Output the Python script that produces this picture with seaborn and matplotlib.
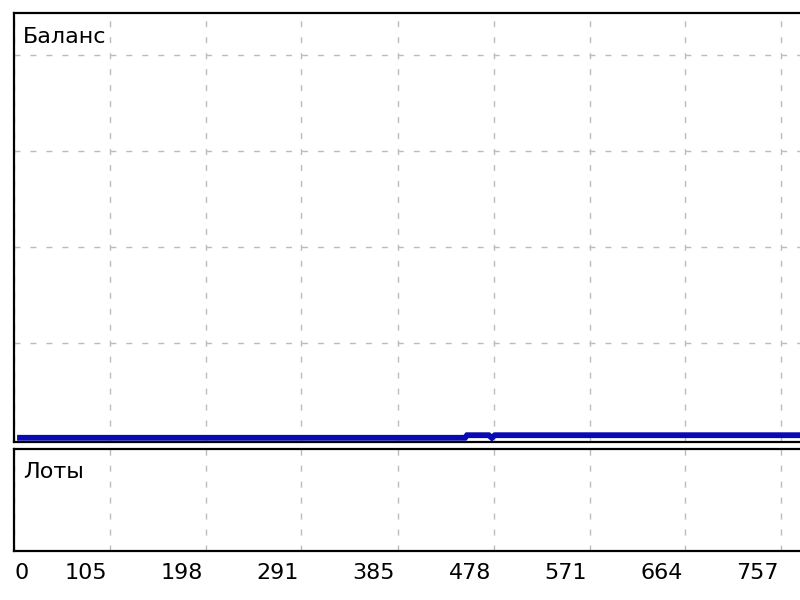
import matplotlib
matplotlib.use("Agg")
import matplotlib.pyplot as plt
import matplotlib.transforms as mtransforms
import seaborn as sns
import pandas as pd

# balance curve (trade number -> balance)
trades = [15, 450, 452, 473, 476, 479, 820]
balance = [10013, 10013, 10040, 10040, 10013, 10040, 10040]

# x axis tick values and labels
xtick_vals = [12, 105, 198, 291, 385, 478, 571, 664, 757]
xtick_labels = ["0", "105", "198", "291", "385", "478", "571", "664", "757"]
# horizontal grid of the balance panel
ytick_vals = [11000, 12000, 13000, 14000]

sns.set_style("white")
plt.rcParams['font.family'] = ['DejaVu Sans']

fig = plt.figure(figsize=(8, 6), dpi=100)
ax1 = fig.add_axes([0.0175, 0.2633, 0.995, 0.715])
ax2 = fig.add_axes([0.0175, 0.0817, 0.995, 0.17], sharex=ax1)

df = pd.DataFrame({"trade": trades, "balance": balance})
sns.lineplot(data=df, x="trade", y="balance", ax=ax1, color="#0a0ab4",
             linewidth=4.2, solid_capstyle="butt", solid_joinstyle="miter")

ax1.set_xlim(12, 785)
ax1.set_ylim(9969, 14439)
ax1.set_xlabel("")
ax1.set_ylabel("")

grid_kw = dict(color="#bcbcbc", linewidth=1.0, linestyle=(0, (4.3, 7.2)))
for ax in (ax1, ax2):
    ax.set_xticks(xtick_vals)
    ax.grid(True, axis="x", **grid_kw)
    for side in ("top", "left", "bottom", "right"):
        ax.spines[side].set_color("black")
        ax.spines[side].set_linewidth(1.6)
    ax.tick_params(axis="y", left=False, right=False, labelleft=False)
ax1.set_yticks(ytick_vals)
ax2.set_yticks([])
ax1.grid(True, axis="y", **grid_kw)
ax1.tick_params(axis="x", bottom=False, labelbottom=False)

ax2.set_ylim(0, 1)
ax2.set_xticklabels(xtick_labels)
ax2.tick_params(axis="x", direction="out", length=4, width=1.4, color="black",
                labelsize=16, labelcolor="black", pad=5)
shift = mtransforms.ScaledTranslation(-3 / 100, 0, fig.dpi_scale_trans)
for i, lab in enumerate(ax2.get_xticklabels()):
    if i == 0:
        lab.set_horizontalalignment("left")
        lab.set_transform(lab.get_transform() + mtransforms.ScaledTranslation(1 / 100, 0, fig.dpi_scale_trans))
    else:
        lab.set_horizontalalignment("right")
        lab.set_transform(lab.get_transform() + shift)
ax2.xaxis.get_major_ticks()[0].tick1line.set_visible(False)

ax1.text(0.011, 0.968, "Баланс", transform=ax1.transAxes, ha="left", va="top",
         fontsize=16, color="black")
ax2.text(0.011, 0.875, "Лоты", transform=ax2.transAxes, ha="left", va="top",
         fontsize=16, color="black")

fig.savefig("out.png", dpi=100, facecolor="white")
